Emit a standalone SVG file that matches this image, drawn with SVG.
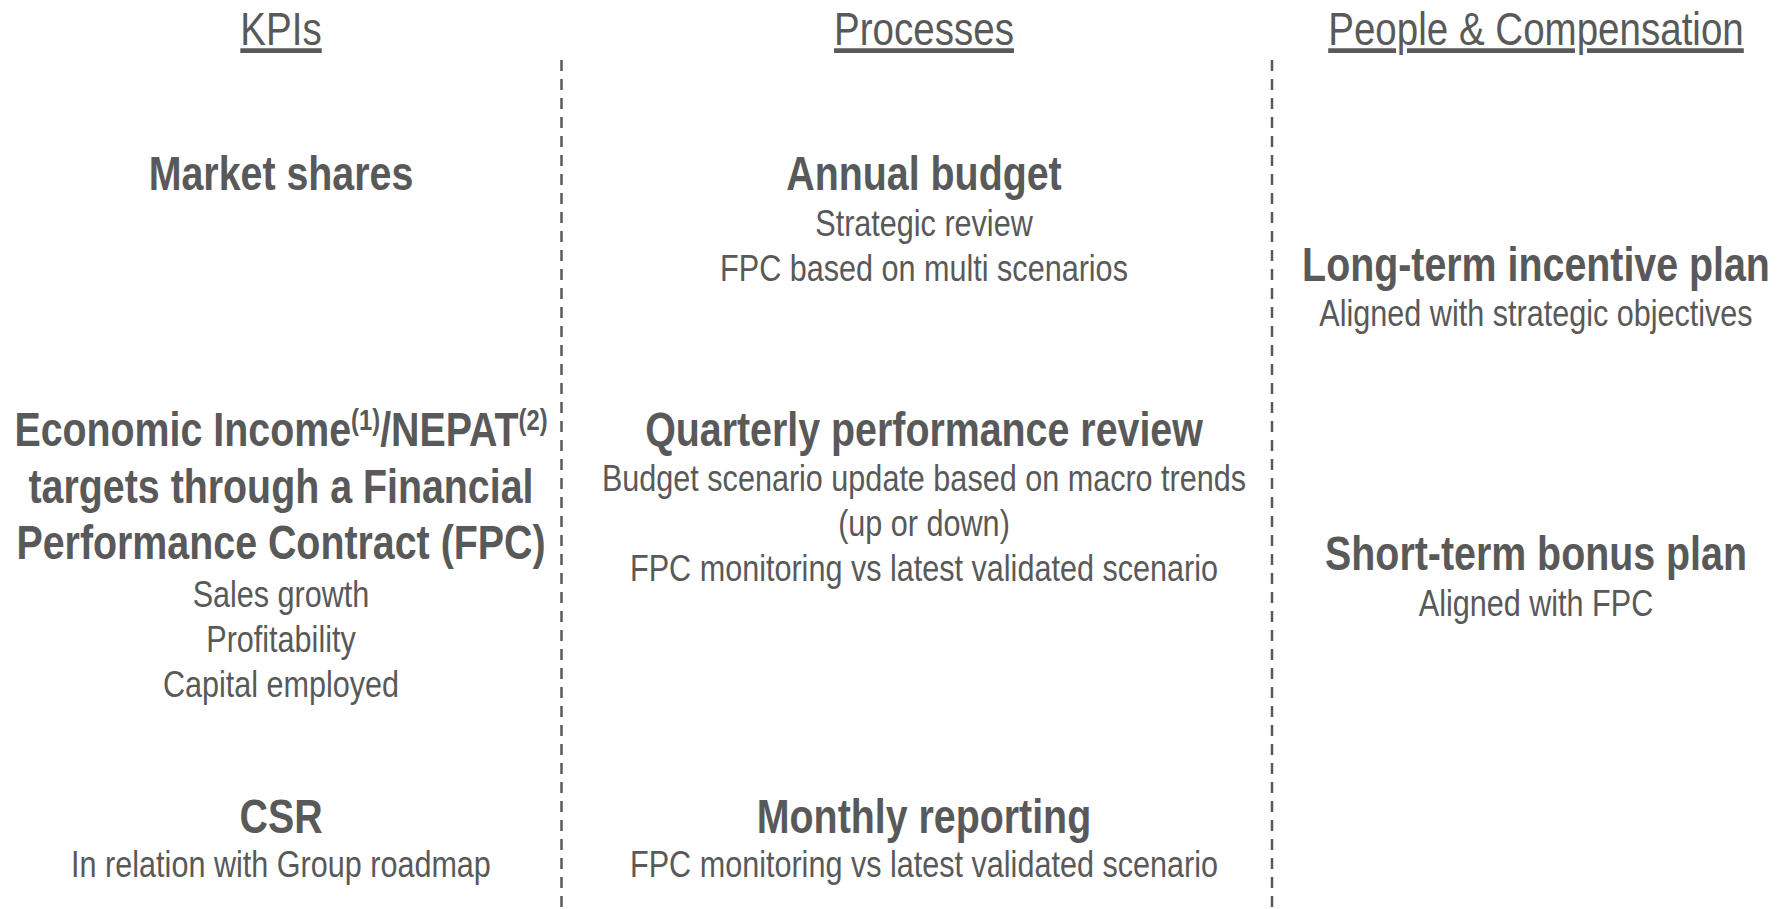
<svg xmlns="http://www.w3.org/2000/svg" width="1789" height="909" viewBox="0 0 1789 909">
  <style>
    text { font-family: "Liberation Sans", Arial, sans-serif; fill: #595959; text-anchor: middle; }
    .hd { font-size: 47px; text-decoration: underline; }
    .tt { font-size: 48px; font-weight: bold; }
    .sb { font-size: 37.3px; }
    .sup { font-size: 29px; font-weight: bold; }
    .div { stroke: #595959; stroke-width: 2.5; stroke-dasharray: 11 8; fill: none; }
  </style>
  <rect width="1789" height="909" fill="#ffffff"/>

  <!-- dashed column separators -->
  <g id="connectors">
    <line class="div" x1="561.5" y1="60" x2="561.5" y2="909"/>
    <line class="div" x1="1272" y1="60" x2="1272" y2="909"/>
  </g>

  <!-- KPIs column (condensed lettering) -->
  <g id="col-kpis" transform="translate(281 0) scale(0.82 1)">
    <g id="header-kpis">
      <text class="hd" x="0" y="45">KPIs</text>
    </g>
    <g id="market-shares">
      <text class="tt" x="0" y="190">Market shares</text>
    </g>
    <g id="economic-income">
      <text class="tt" x="0" y="446">Economic Income<tspan class="sup" dy="-16">(1)</tspan><tspan dy="16">/NEPAT</tspan><tspan class="sup" dy="-16">(2)</tspan></text>
      <text class="tt" x="0" y="503">targets through a Financial</text>
      <text class="tt" x="0" y="559">Performance Contract (FPC)</text>
      <text class="sb" x="0" y="607">Sales growth</text>
      <text class="sb" x="0" y="652">Profitability</text>
      <text class="sb" x="0" y="697">Capital employed</text>
    </g>
    <g id="csr">
      <text class="tt" x="0" y="833">CSR</text>
      <text class="sb" x="0" y="877">In relation with Group roadmap</text>
    </g>
  </g>

  <!-- Processes column -->
  <g id="col-processes" transform="translate(924 0) scale(0.82 1)">
    <g id="header-processes">
      <text class="hd" x="0" y="45">Processes</text>
    </g>
    <g id="annual-budget">
      <text class="tt" x="0" y="190">Annual budget</text>
      <text class="sb" x="0" y="236">Strategic review</text>
      <text class="sb" x="0" y="281">FPC based on multi scenarios</text>
    </g>
    <g id="quarterly-review">
      <text class="tt" x="0" y="446">Quarterly performance review</text>
      <text class="sb" x="0" y="491">Budget scenario update based on macro trends</text>
      <text class="sb" x="0" y="536">(up or down)</text>
      <text class="sb" x="0" y="581">FPC monitoring vs latest validated scenario</text>
    </g>
    <g id="monthly-reporting">
      <text class="tt" x="0" y="833">Monthly reporting</text>
      <text class="sb" x="0" y="877">FPC monitoring vs latest validated scenario</text>
    </g>
  </g>

  <!-- People & Compensation column -->
  <g id="col-people" transform="translate(1536 0) scale(0.82 1)">
    <g id="header-people">
      <text class="hd" x="0" y="45">People &amp; Compensation</text>
    </g>
    <g id="long-term-plan">
      <text class="tt" x="0" y="281">Long-term incentive plan</text>
      <text class="sb" x="0" y="326">Aligned with strategic objectives</text>
    </g>
    <g id="short-term-plan">
      <text class="tt" x="0" y="570">Short-term bonus plan</text>
      <text class="sb" x="0" y="616">Aligned with FPC</text>
    </g>
  </g>
</svg>
